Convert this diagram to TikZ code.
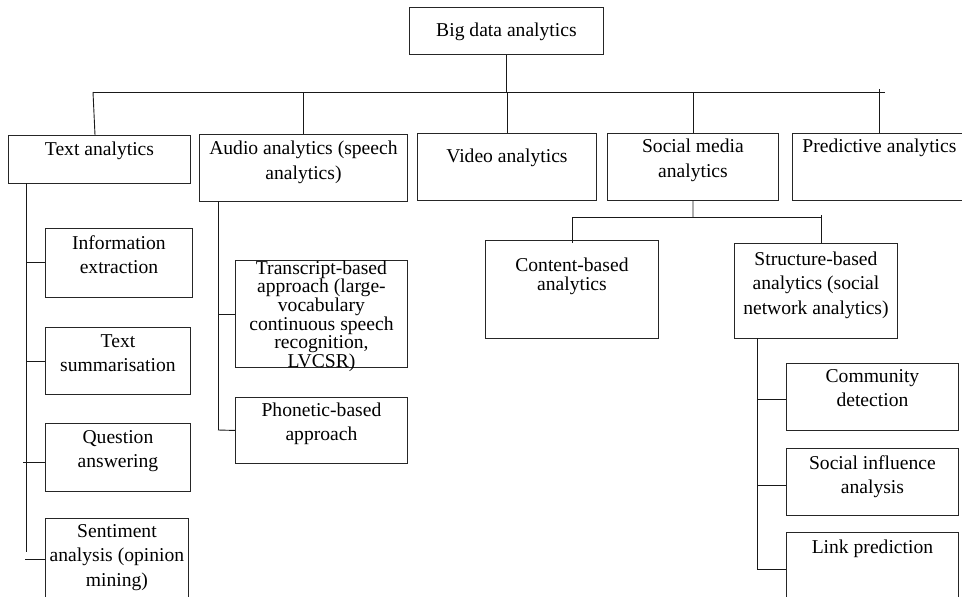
\documentclass[tikz,border=0pt]{standalone}
\usepackage{fontspec}
\setmainfont{Liberation Serif}
\newcommand{\bxt}[4]{\parbox[t][#2pt][t]{#1pt}{\vspace*{#3pt}\centering #4\par}}
\newcommand{\tight}{\fontsize{19.6}{17}\selectfont}
\newcommand{\semitight}{\fontsize{19.6}{19}\selectfont}
\tikzset{
  box/.style={draw=black!85, line width=0.9pt, inner sep=0pt, anchor=north west,
              font=\fontsize{19.6}{24.5}\selectfont},
  conn/.style={draw=black!90, line width=0.9pt}
}
\begin{document}
\begin{tikzpicture}[x=1pt,y=-1pt]
\useasboundingbox (0,0) rectangle (962,597);
% boxes
\node[box] (big)  at (409,7)   {\bxt{194}{47}{15}{Big data analytics}};
\node[box] (ta)   at (8,135)   {\bxt{182}{48}{6}{Text analytics}};
\node[box] (aud)  at (199,134) {\bxt{208}{67}{6.5}{Audio analytics (speech\\analytics)}};
\node[box] (vid)  at (417,133) {\bxt{179}{67}{15}{Video analytics}};
\node[box] (soc)  at (607,133) {\bxt{171}{67}{5.5}{Social media\\analytics}};
\node[box] (pred) at (792,133) {\bxt{174}{67}{5}{Predictive analytics}};
\node[box] (ie)   at (45,228)  {\bxt{147}{69}{7}{Information\\extraction}};
\node[box] (ts)   at (45,327)  {\bxt{145}{67}{7}{Text\\summarisation}};
\node[box] (qa)   at (45,423)  {\bxt{145}{68}{7}{Question\\answering}};
\node[box] (sa)   at (45,518)  {\bxt{143}{90}{6}{Sentiment\\analysis (opinion\\mining)}};
\node[box] (tr)   at (235,260) {\bxt{172}{107}{0}{\tight Transcript-based\\approach (large-\\vocabulary\\continuous speech\\recognition,\\LVCSR)}};
\node[box] (ph)   at (235,397) {\bxt{172}{66}{5}{Phonetic-based\\approach}};
\node[box] (cb)   at (485,240) {\bxt{173}{98}{17}{\semitight Content-based\\analytics}};
\node[box] (sb)   at (734,243) {\bxt{163}{95}{8}{Structure-based\\analytics (social\\network analytics)}};
\node[box] (cd)   at (786,363) {\bxt{172}{67}{6}{Community\\detection}};
\node[box] (si)   at (786,448) {\bxt{172}{67}{7}{Social influence\\analysis}};
\node[box] (lp)   at (786,532) {\bxt{172}{75}{7}{Link prediction}};
% named coordinates
\coordinate (busL) at (93,92);
\coordinate (busR) at (885,92);
\coordinate (taTop) at (95,135);
\coordinate (predTop) at (879,89);
\coordinate (predIn) at (879,133);
\coordinate (taV1) at (26,183);
\coordinate (taV2) at (26,552);
\coordinate (ieL) at (26,262);
\coordinate (tsL) at (26,361);
\coordinate (qaL) at (23,462);
\coordinate (saL) at (25,559);
\coordinate (audV1) at (218,201);
\coordinate (audV2) at (218,430);
\coordinate (socBus) at (693,217);
\coordinate (socBusL) at (572,217);
\coordinate (socBusR) at (821,217);
\coordinate (sbTopR) at (821,215);
\coordinate (cbIn) at (572,243);
\coordinate (sbIn) at (821,243);
\coordinate (sbV1) at (757,338);
\coordinate (sbV2) at (757,569);
\coordinate (cdL) at (757,399);
\coordinate (siL) at (757,485);
% top level
\draw[conn] (big.south) -- (big.south |- busL);
\draw[conn] (busL) -- (busR);
\draw[conn] (busL) -- (taTop);
\draw[conn] (aud.north |- busL) -- (aud.north);
\draw[conn] (vid.north |- busL) -- (vid.north);
\draw[conn] (soc.north |- busL) -- (soc.north);
\draw[conn] (predTop) -- (predIn);
% text analytics branch
\draw[conn] (taV1) -- (taV2);
\draw[conn] (ieL) -- (ieL -| ie.west);
\draw[conn] (tsL) -- (tsL -| ts.west);
\draw[conn] (qaL) -- (qaL -| qa.west);
\draw[conn] (saL) -- (saL -| sa.west);
% audio branch
\draw[conn] (audV1) -- (audV2);
\draw[conn] (audV1 |- tr.west) -- (tr.west);
\draw[conn] (audV2) -- (ph.west);
% social branch
\draw[conn] (soc.south) -- (socBus);
\draw[conn] (socBusL) -- (socBusR);
\draw[conn] (socBusL) -- (cbIn);
\draw[conn] (sbTopR) -- (sbIn);
\draw[conn] (sbV1) -- (sbV2);
\draw[conn] (cdL) -- (cdL -| cd.west);
\draw[conn] (siL) -- (siL -| si.west);
\draw[conn] (sbV2) -- (sbV2 -| lp.west);
\end{tikzpicture}
\end{document}
